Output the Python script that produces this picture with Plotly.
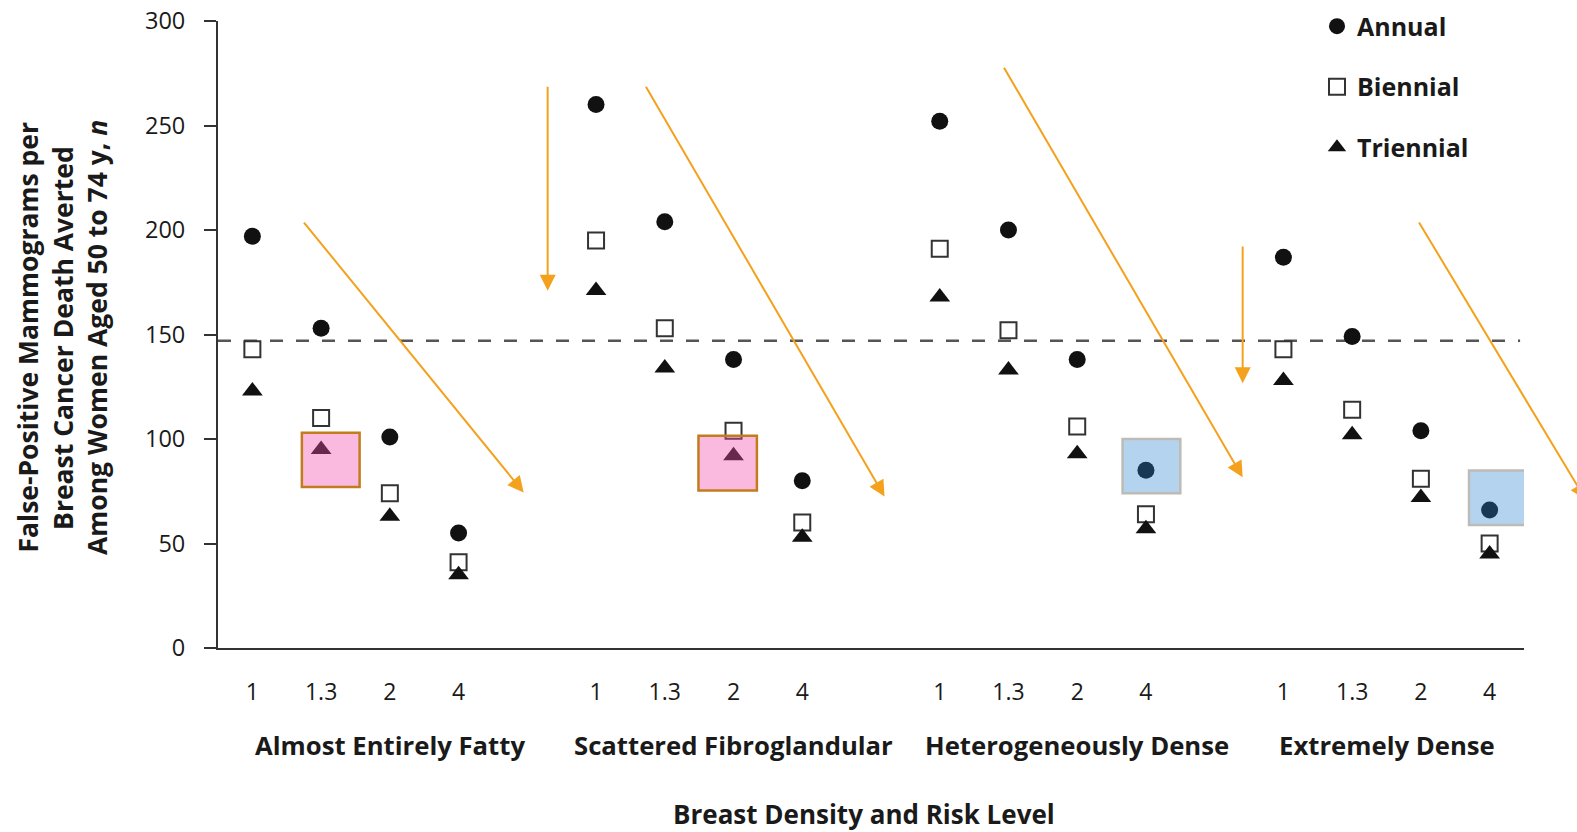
import plotly.graph_objects as go

# ---------------- data ----------------
densities = ["Almost Entirely Fatty", "Scattered Fibroglandular",
             "Heterogeneously Dense", "Extremely Dense"]
risk_levels = ["1", "1.3", "2", "4"]

annual = [197, 153, 101, 55, 260, 204, 138, 80, 252, 200, 138, 85, 187, 149, 104, 66]
biennial = [143, 110, 74, 41, 195, 153, 104, 60, 191, 152, 106, 64, 143, 114, 81, 50]
triennial = [123, 95, 63, 35, 171, 134, 92, 53, 168, 133, 93, 57, 128, 102, 72, 45]

reference_level = 147
y_ticks = [0, 50, 100, 150, 200, 250, 300]

# ---------------- layout helpers ----------------
slot = len(risk_levels) + 1
xs = [g * slot + i for g in range(len(densities)) for i in range(len(risk_levels))]
ticktext = risk_levels * len(densities)
group_label_x = [2, 7, 12, 16.5]

FONT = "Open Sans"
TXT = "#1a1a1a"
AX = "#333333"
ORANGE = "#F4A11D"

fig = go.Figure()
fig.add_trace(go.Scatter(
    x=xs, y=annual, mode="markers", name="Annual", legendgroup="a",
    marker=dict(symbol="circle", size=17, color="#111111")))
fig.add_trace(go.Scatter(
    x=xs, y=biennial, mode="markers", name="Biennial", legendgroup="b",
    marker=dict(symbol="square", size=16, color="white",
                line=dict(color="#333333", width=2))))
fig.add_trace(go.Scatter(
    x=xs, y=triennial, mode="markers", name="Triennial", legendgroup="c",
    marker=dict(symbol="triangle-up", size=18, color="#111111")))

shapes = []
# reference dashed line
shapes.append(dict(type="line", xref="paper", x0=0, x1=0.997, yref="y",
                   y0=reference_level, y1=reference_level, layer="below",
                   line=dict(color="#555555", width=2.5, dash="13px,13px")))

# highlight boxes (translucent overlay + solid border)
boxes = [
    dict(x0=0.72, x1=1.56, y0=77, y1=103, fill="rgba(243,78,176,0.39)", border="#C27C1C"),
    dict(x0=6.49, x1=7.34, y0=75.3, y1=101.6, fill="rgba(243,78,176,0.39)", border="#C27C1C"),
    dict(x0=12.66, x1=13.50, y0=74.1, y1=100, fill="rgba(40,128,210,0.35)", border="#BEBBB6"),
    dict(x0=17.70, x1=18.55, y0=58.9, y1=84.9, fill="rgba(40,128,210,0.35)", border="#BEBBB6"),
]
for b in boxes:
    shapes.append(dict(type="rect", xref="x", yref="y", x0=b["x0"], x1=b["x1"],
                       y0=b["y0"], y1=b["y1"], layer="above",
                       fillcolor=b["fill"], line=dict(width=0)))
    shapes.append(dict(type="rect", xref="x", yref="y", x0=b["x0"], x1=b["x1"],
                       y0=b["y0"], y1=b["y1"], layer="above",
                       fillcolor="rgba(0,0,0,0)", line=dict(color=b["border"], width=2.5)))

annotations = []
# orange arrows: (tail_x, tail_y, head_x, head_y) in data units
arrows = [
    (0.733, 204.3, 3.947, 74.4),
    (4.296, 269.3, 4.296, 170.9),
    (5.713, 269.3, 9.197, 72.5),
    (10.923, 278.3, 14.407, 81.7),
    (14.407, 192.8, 14.407, 126.7),
    (16.96, 204.3, 19.40, 70.9),
]
for tx, ty, hx, hy in arrows:
    annotations.append(dict(x=hx, y=hy, ax=tx, ay=ty, xref="x", yref="y",
                            axref="x", ayref="y", text="", showarrow=True,
                            arrowhead=2, arrowsize=1.6, arrowwidth=2,
                            arrowcolor=ORANGE, standoff=0, startstandoff=0))

# group labels
for gx, name in zip(group_label_x, densities):
    annotations.append(dict(x=gx, xref="x", y=-0.1557, yref="paper", text=name,
                            showarrow=False, xanchor="center", yanchor="middle",
                            font=dict(family=FONT, size=25.7, color=TXT, weight="bold")))
# x axis title
annotations.append(dict(x=8.9, xref="x", y=-0.2654, yref="paper",
                        text="Breast Density and Risk Level", showarrow=False,
                        xanchor="center", yanchor="middle",
                        font=dict(family=FONT, size=26, color=TXT, weight="bold")))
# y axis title (three lines)
ytitle = ["False-Positive Mammograms per", "Breast Cancer Death Averted",
          "Among Women Aged 50 to 74 y, <i>n</i>"]
for line, xsft in zip(ytitle, [-190, -155.6, -121.5]):
    annotations.append(dict(x=0, xref="paper", xshift=xsft, y=0.4952, yref="paper",
                            text=line, textangle=-90, showarrow=False,
                            xanchor="center", yanchor="middle",
                            font=dict(family=FONT, size=26.5, color=TXT, weight="bold")))

fig.update_layout(
    width=1577, height=832,
    margin=dict(l=218, r=53, t=21, b=184, autoexpand=False),
    paper_bgcolor="white", plot_bgcolor="white",
    font=dict(family=FONT, color=TXT),
    showlegend=True,
    legend=dict(x=0.8415, y=1.028, xanchor="left", yanchor="top",
                font=dict(family=FONT, size=25, color=TXT, weight="bold"),
                tracegroupgap=25, bgcolor="rgba(0,0,0,0)"),
    shapes=shapes, annotations=annotations,
    xaxis=dict(range=[-0.5, 18.5], tickvals=xs, ticktext=ticktext,
               showline=True, linecolor=AX, linewidth=2, ticks="",
               showgrid=False, zeroline=False, automargin=False,
               tickfont=dict(family=FONT, size=23, color=TXT),
               ticklabelstandoff=22),
    yaxis=dict(range=[0, 300], tickvals=y_ticks,
               showline=True, linecolor=AX, linewidth=2,
               ticks="outside", ticklen=12, tickwidth=2, tickcolor=AX,
               showgrid=False, zeroline=False, automargin=False,
               tickfont=dict(family=FONT, size=23.5, color=TXT),
               ticklabelstandoff=14),
)

fig.write_html("out.html")
